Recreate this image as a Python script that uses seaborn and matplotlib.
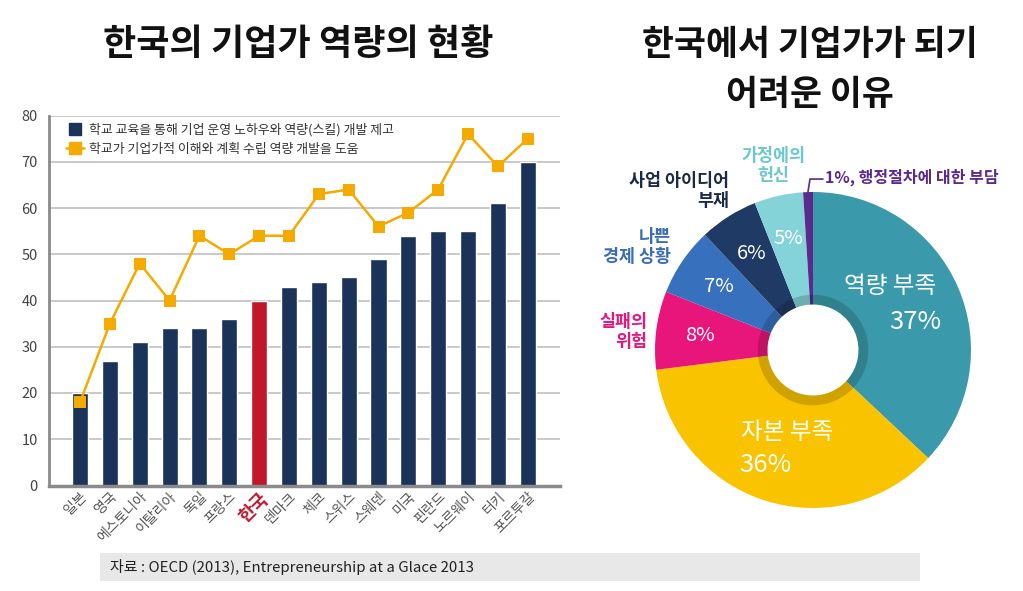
import numpy as np
import matplotlib
matplotlib.use("Agg")
import matplotlib.pyplot as plt
import seaborn as sns
from matplotlib.patches import Wedge, Rectangle
from matplotlib.lines import Line2D

# ---------------- data ----------------
countries = ["일본", "영국", "에스토니아", "이탈리아", "독일", "프랑스", "한국", "덴마크",
             "체코", "스위스", "스웨덴", "미국", "핀란드", "노르웨이", "터키", "포르투갈"]
bar_vals = [20, 27, 31, 34, 34, 36, 40, 43, 44, 45, 49, 54, 55, 55, 61, 70]
line_vals = [18, 35, 48, 40, 54, 50, 54, 54, 63, 64, 56, 59, 64, 76, 69, 75]
bar_label = "학교 교육을 통해 기업 운영 노하우와 역량(스킬) 개발 제고"
line_label = "학교가 기업가적 이해와 계획 수립 역량 개발을 도움"
yticks = [0, 10, 20, 30, 40, 50, 60, 70, 80]

pie_names = ["역량 부족", "자본 부족", "실패의 위험", "나쁜 경제 상황",
             "사업 아이디어 부재", "가정에의 헌신", "행정절차에 대한 부담"]
pie_vals = [37, 36, 8, 7, 6, 5, 1]

title_left = "한국의 기업가 역량의 현황"
title_right = ["한국에서 기업가가 되기", "어려운 이유"]
source = "자료 : OECD (2013), Entrepreneurship at a Glace 2013"

# ---------------- style ----------------
sns.set_style("white")
plt.rcParams["font.family"] = ["Noto Sans CJK KR", "DejaVu Sans"]

W, H = 1023, 591
fig = plt.figure(figsize=(W / 100, H / 100), dpi=100)


def fx(px):
    return px / W


def fy(py):
    return 1 - py / H


navy = "#1b3259"
red = "#c0182a"
orange = "#f5aa00"

# ---------------- bar + line chart ----------------
ax = fig.add_axes([fx(49), fy(485.5), fx(560) - fx(49), fy(115.5) - fy(485.5)])
palette = [red if c == "한국" else navy for c in countries]
sns.barplot(x=countries, y=bar_vals, hue=countries, palette=palette, legend=False,
            width=0.54, ax=ax, saturation=1, zorder=2)
xs = np.arange(len(countries))
sns.lineplot(x=xs, y=line_vals, ax=ax, color=orange, linewidth=1.8, marker="s",
             markersize=9, markeredgewidth=0, zorder=3)
ax.set_xlim(-1.04, 16.08)
ax.set_ylim(0, 80)
ax.set_yticks(yticks)
ax.yaxis.grid(True, color="#c9c9c9", linewidth=1.4, zorder=0)
ax.set_axisbelow(True)
for s in ["top", "right"]:
    ax.spines[s].set_visible(False)
ax.spines["left"].set_color("#8a8a8a")
ax.spines["left"].set_linewidth(2)
ax.spines["bottom"].set_color("#8a8a8a")
ax.spines["bottom"].set_linewidth(2.5)
ax.tick_params(axis="y", length=5, width=1.2, color="#c9c9c9", labelsize=10.5,
               labelcolor="#444444", pad=3)
ax.tick_params(axis="x", length=0, pad=3)
ax.set_xticks(xs)
ax.set_xticklabels(countries, rotation=45, ha="right", rotation_mode="anchor",
                   fontsize=10, color="#555555")
for lab in ax.get_xticklabels():
    if lab.get_text() == "한국":
        lab.set_color(red)
        lab.set_fontweight("bold")
        lab.set_fontsize(13)
ax.set_xlabel("")
ax.set_ylabel("")

handles = [
    Line2D([0], [0], linestyle="none", marker="s", markersize=9, color=navy),
    Line2D([0], [0], color=orange, linewidth=1.8, marker="s", markersize=8),
]
ax.legend(handles, [bar_label, line_label], loc="upper left",
          bbox_to_anchor=(0.01, 1.01), frameon=False, fontsize=9.3,
          handlelength=1.4, handletextpad=0.4, labelspacing=0.45,
          labelcolor="#333333")

# ---------------- donut chart ----------------
cx, cy, R = 813, 350, 158
ax2 = fig.add_axes([fx(cx - R), fy(cy + R), fx(2 * R), fy(cy - R) - fy(cy + R)])
pie_colors = ["#3a9aab", "#f9c300", "#e8157a", "#3770bd", "#1f3a64", "#83d3d8", "#5a2a8c"]
hole = 0.288
wedges, _ = ax2.pie(pie_vals, colors=pie_colors, startangle=90, counterclock=False,
                    radius=1, wedgeprops=dict(width=1 - hole, linewidth=0))
ax2.add_patch(Wedge((0, 0), 0.35, 0, 360, width=0.35 - hole, facecolor="black",
                    alpha=0.17, linewidth=0))
ax2.set_xlim(-1, 1)
ax2.set_ylim(-1, 1)
ax2.set_aspect("equal")
ax2.axis("off")

# big labels
ax2.text(0.487, 0.40, pie_names[0], color="white", fontsize=17, ha="center", va="center")
ax2.text(0.646, 0.177, f"{pie_vals[0]}%", color="white", fontsize=18.5, ha="center", va="center")
ax2.text(-0.165, -0.525, pie_names[1], color="white", fontsize=17, ha="center", va="center")
ax2.text(-0.304, -0.728, f"{pie_vals[1]}%", color="white", fontsize=18.5, ha="center", va="center")

# small percentage labels from wedge angles
for w, v in zip(wedges[2:6], pie_vals[2:6]):
    th = np.deg2rad((w.theta1 + w.theta2) / 2)
    ax2.text(0.72 * np.cos(th), 0.72 * np.sin(th), f"{v}%", color="white",
             fontsize=14.5, ha="center", va="center")

# outside labels
ax2.text(-1.05, 0.114, "실패의\n위험", color="#e5177b", fontsize=12.5, ha="right",
         va="center", multialignment="right", linespacing=1.15, clip_on=False, fontweight="bold")
ax2.text(-0.899, 0.652, "나쁜\n경제 상황", color="#3b6db5", fontsize=12.5, ha="right",
         va="center", multialignment="right", linespacing=1.15, clip_on=False, fontweight="bold")
ax2.text(-0.532, 1.006, "사업 아이디어\n부재", color="#1c2a45", fontsize=12.5, ha="right",
         va="center", multialignment="right", linespacing=1.15, clip_on=False, fontweight="bold")
ax2.text(-0.253, 1.165, "가정에의\n헌신", color="#6cc8cc", fontsize=12.5, ha="center",
         va="center", multialignment="center", linespacing=1.15, clip_on=False, fontweight="bold")
ax2.text(0.076, 1.095, f"{pie_vals[6]}%, {pie_names[6]}", color="#5a2a8c", fontsize=11.5,
         ha="left", va="center", clip_on=False, fontweight="bold")
ax2.plot([-0.032, -0.019, 0.063], [1.0, 1.082, 1.082], color="#5a2a8c", linewidth=1.2,
         clip_on=False)

# ---------------- titles ----------------
fig.text(fx(298), fy(45), title_left, ha="center", va="center", fontsize=26,
         fontweight="bold", color="#111111")
fig.text(fx(810), fy(45), title_right[0], ha="center", va="center", fontsize=25,
         fontweight="bold", color="#111111")
fig.text(fx(810), fy(95), title_right[1], ha="center", va="center", fontsize=25,
         fontweight="bold", color="#111111")

# ---------------- source box ----------------
fig.patches.append(Rectangle((fx(100), fy(581)), fx(920) - fx(100), fy(553) - fy(581),
                             transform=fig.transFigure, facecolor="#e8e8e8",
                             edgecolor="none", zorder=0))
fig.text(fx(110), fy(567), source, ha="left", va="center", fontsize=10.8, color="#222222")

fig.savefig("out.png", dpi=100)
